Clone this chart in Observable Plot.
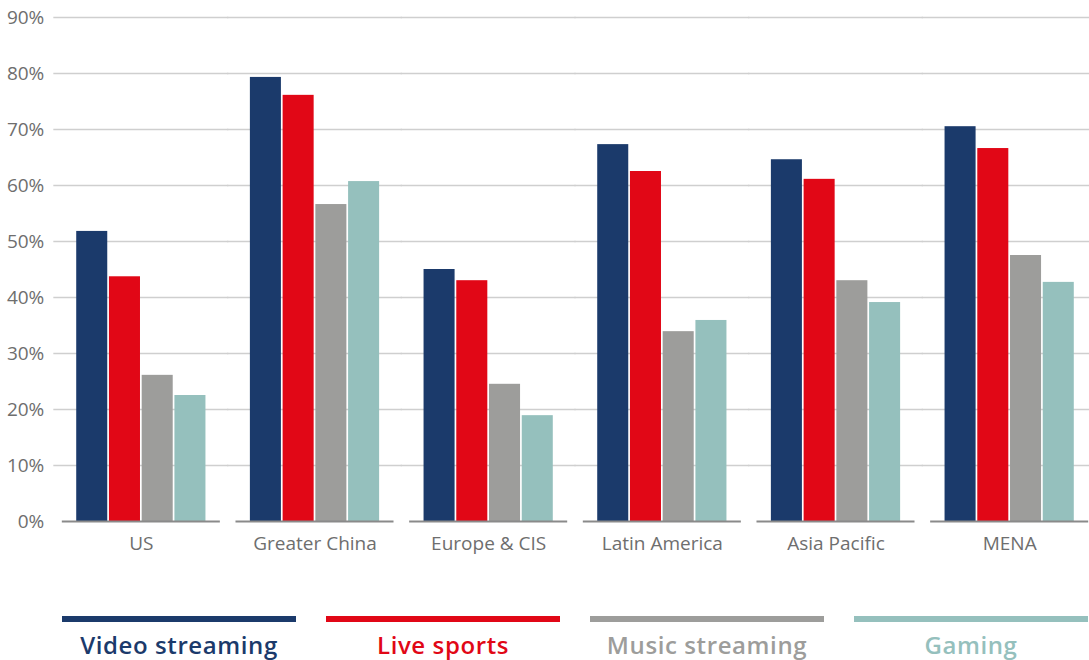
<!DOCTYPE html>
<html>
<head>
<meta charset="utf-8">
<script src="https://cdn.jsdelivr.net/npm/d3@7"></script>
<script src="https://cdn.jsdelivr.net/npm/@observablehq/plot@0.6"></script>
<style>
  html, body { margin: 0; padding: 0; background: #fff; overflow: hidden; }
  body { width: 1089px; height: 660px; font-family: "Open Sans", sans-serif; }
  #legend { display: flex; padding-left: 62px; gap: 30px; margin-top: 51px; }
  .item { width: 234px; text-align: center; }
  .item .bar { height: 6px; }
  .item .lbl { font-weight: 600; font-size: 24px; letter-spacing: 0.6px; line-height: 30px; margin-top: 8px; }
</style>
</head>
<body>
<div id="chart"></div>
<div id="legend"></div>
<script>
const regions = ["US", "Greater China", "Europe & CIS", "Latin America", "Asia Pacific", "MENA"];
const series = ["Video streaming", "Live sports", "Music streaming", "Gaming"];
const colors = ["#1b3a6b", "#e10716", "#9d9d9b", "#95c0bd"];
const videoStreaming = [51.8, 79.3, 45.0, 67.3, 64.6, 70.5];
const liveSports     = [43.7, 76.1, 43.0, 62.5, 61.1, 66.6];
const musicStreaming = [26.1, 56.6, 24.5, 33.9, 43.0, 47.5];
const gaming         = [22.5, 60.7, 18.9, 35.9, 39.1, 42.7];
const yTicks = [10, 20, 30, 40, 50, 60, 70, 80, 90];
const allTicks = [0, ...yTicks];

const valuesBySeries = [videoStreaming, liveSports, musicStreaming, gaming];
const data = [];
regions.forEach((r, i) => series.forEach((s, j) => data.push({region: r, series: s, value: valuesBySeries[j][i]})));

const chart = Plot.plot({
  width: 1089,
  height: 565,
  marginTop: 17,
  marginBottom: 44,
  marginLeft: 54,
  marginRight: -7,
  style: {fontFamily: "'Open Sans', sans-serif", color: "#6e6e6e", background: "#fff"},
  fx: {domain: regions, paddingInner: 0.09, paddingOuter: 0.045, round: false, label: null},
  x: {domain: series, paddingInner: 0.052, paddingOuter: 0.44, round: false, axis: null},
  y: {domain: [0, 90], axis: null},
  color: {domain: series, range: colors},
  marks: [
    Plot.ruleY(yTicks, {y: d => d, stroke: "#cfcfcf", strokeWidth: 1.5, insetLeft: -8.5, insetRight: -8.5}),
    Plot.barY(data, {fx: "region", x: "series", y: "value", fill: "series"}),
    Plot.ruleY([0], {stroke: "#8a8a8a", strokeWidth: 2}),
    Plot.axisFx({anchor: "bottom", tickSize: 0, tickPadding: 15, fontSize: 19, label: null}),
    Plot.axisY(allTicks, {anchor: "left", tickSize: 0, tickPadding: 18, fontSize: 19, tickFormat: d => d + "%", label: null})
  ]
});
document.getElementById("chart").appendChild(chart);

const legend = document.getElementById("legend");
series.forEach((s, i) => {
  const item = document.createElement("div");
  item.className = "item";
  const bar = document.createElement("div");
  bar.className = "bar";
  bar.style.background = colors[i];
  const lbl = document.createElement("div");
  lbl.className = "lbl";
  lbl.style.color = colors[i];
  lbl.textContent = s;
  item.appendChild(bar);
  item.appendChild(lbl);
  legend.appendChild(item);
});
</script>
</body>
</html>
